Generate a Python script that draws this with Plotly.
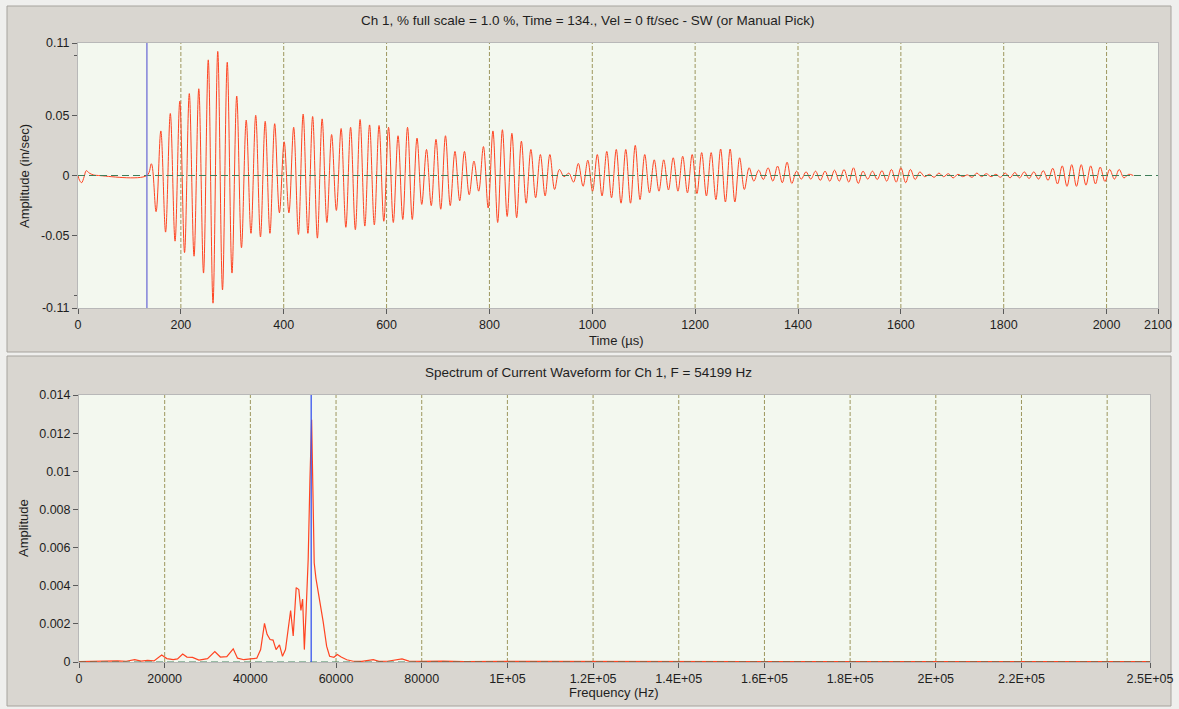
import plotly.graph_objects as go

W, H = 1179, 709

# ---------------- data ----------------
# waveform before the first arrival
PRE_T = [0, 3, 7, 12, 16, 22, 30, 40, 134]
PRE_A = [0, -0.004, -0.006, -0.001, 0.004, 0.002, 0.0005, 0, 0]

# successive extrema (peak, trough, ...) of the waveform after the pick
T_FIRST = 142.6      # time of first extremum (us)
HALF_STEP = 9.225    # spacing between successive extrema (us)
EXTREMA = [
    0.0097, -0.030, 0.037, -0.047, 0.0515, -0.0545, 0.0617, -0.064, 0.068, -0.067,
    0.072, -0.081, 0.096, -0.106, 0.103, -0.095, 0.094, -0.081, 0.066, -0.060,
    0.046, -0.048, 0.050, -0.051, 0.045, -0.048, 0.043, -0.031, 0.028, -0.031,
    0.040, -0.049, 0.051, -0.048, 0.049, -0.052, 0.047, -0.039, 0.034, -0.029,
    0.039, -0.043, 0.040, -0.045, 0.0465, -0.042, 0.042, -0.041, 0.0415, -0.038,
    0.040, -0.039, 0.033, -0.0365, 0.040, -0.0365, 0.031, -0.024, 0.0216, -0.025,
    0.030, -0.028, 0.033, -0.025, 0.020, -0.021, 0.020, -0.016, 0.012, -0.013,
    0.024, -0.027, 0.037, -0.039, 0.038, -0.034, 0.035, -0.035, 0.0285, -0.023,
    0.0216, -0.0185, 0.0174, -0.017, 0.0174, -0.0116, 0.005, -0.001, 0.002, -0.0055,
    0.010, -0.009, 0.0127, -0.013, 0.0174, -0.017, 0.020, -0.0185, 0.0216, -0.023,
    0.0216, -0.023, 0.025, -0.020, 0.0174, -0.0144, 0.013, -0.013, 0.013, -0.012,
    0.0147, -0.013, 0.016, -0.0144, 0.0174, -0.015, 0.019, -0.017, 0.019, -0.020,
    0.022, -0.022, 0.022, -0.022, 0.0147, -0.0116, 0.0064, -0.0047, 0.0044, -0.0033,
    0.0064, -0.0047, 0.0078, -0.006, 0.011, -0.0066, 0.0036, -0.003, 0.003, -0.003,
    0.0036, -0.004, 0.0036, -0.0047, 0.0044, -0.0047, 0.005, -0.0055, 0.0064, -0.0066,
    0.0036, -0.003, 0.0036, -0.0033, 0.004, -0.0047, 0.005, -0.0055, 0.0064, -0.006,
    0.005, -0.0033, 0.003, -0.001, 0.001, -0.0015, 0.002, -0.001, 0.0015, -0.002,
    0.001, -0.001, 0.0005, -0.0015, 0.002, -0.001, 0.0015, -0.001, 0.001, -0.0015,
    0.002, -0.002, 0.0025, -0.002, 0.003, -0.0025, 0.003, -0.003, 0.004, -0.004,
    0.006, -0.007, 0.008, -0.009, 0.009, -0.009, 0.009, -0.008, 0.008, -0.007,
    0.007, -0.005, 0.005, -0.003, 0.005, -0.002, 0.001,
]
END_T = [2052]
END_A = [0]

PICK_TIME = 134
PEAK_FREQ = 54199

# spectrum
SPEC_FREQ = [0, 2000, 5000, 7000, 9000, 11000, 13000, 14500, 16000, 17500,
             19300, 20500, 22000, 23000, 24200, 25200, 26500, 28000, 30000, 31700,
             33000, 34500, 36000, 37000, 38500, 40000, 41500, 42400, 43300, 43900,
             44600, 45300, 46000, 46800, 47500, 48200, 48800, 49400, 50000, 50700,
             51300, 51800, 52200, 52600, 53000, 53500, 53900, 54300, 54600, 54900,
             55300, 56000, 57000, 57800, 58500, 59500, 60300, 61200, 62500, 64000,
             66000, 68700, 70000, 72000, 75400, 77000, 80000, 85000, 90000, 100000,
             120000, 140000, 160000, 180000, 200000, 220000, 240000, 250000]
SPEC_AMP = [0.00002, 0.00003, 0.00005, 0.00003, 0.00006, 0.00004, 0.00012, 0.00005, 0.00008, 0.00006,
            0.00037, 0.00018, 0.00012, 0.00016, 0.00042, 0.00026, 0.00024, 0.00010, 0.00018, 0.00055,
            0.00026, 0.00028, 0.00069, 0.00020, 0.00012, 0.00016, 0.00020, 0.00065, 0.00203, 0.00145,
            0.00118, 0.00115, 0.00065, 0.00090, 0.00030, 0.00065, 0.00180, 0.00270, 0.00136, 0.00390,
            0.00380, 0.00270, 0.00330, 0.00065, 0.00260, 0.00540, 0.00950, 0.01270, 0.00900, 0.00520,
            0.00440, 0.00350, 0.00210, 0.00083, 0.00030, 0.00025, 0.00039, 0.00026, 0.00012, 0.00004,
            0.00003, 0.00012, 0.00003, 0.00004, 0.00016, 0.00005, 0.00003, 0.00005, 0.00002, 0.00003,
            0.00003, 0.00002, 0.00003, 0.00002, 0.00003, 0.00002, 0.00003, 0.00002]

# axes ticks
T_TICKS = [0, 200, 400, 600, 800, 1000, 1200, 1400, 1600, 1800, 2000, 2100]
T_GRID = [200, 400, 600, 800, 1000, 1200, 1400, 1600, 1800, 2000]
A_TICKS = [-0.11, -0.05, 0, 0.05, 0.11]
A_TICKTEXT = ["-0.11", "-0.05", "0", "0.05", "0.11"]
F_TICKS = [0, 20000, 40000, 60000, 80000, 100000, 120000, 140000, 160000,
           180000, 200000, 220000, 240000, 250000]
F_TICKTEXT = ["0", "20000", "40000", "60000", "80000", "1E+05", "1.2E+05", "1.4E+05",
              "1.6E+05", "1.8E+05", "2E+05", "2.2E+05", "", "2.5E+05"]
F_GRID = [20000, 40000, 60000, 80000, 100000, 120000, 140000, 160000, 180000,
          200000, 220000, 240000]
S_TICKS = [0, 0.002, 0.004, 0.006, 0.008, 0.01, 0.012, 0.014]
S_TICKTEXT = ["0", "0.002", "0.004", "0.006", "0.008", "0.01", "0.012", "0.014"]

# ---------------- styling ----------------
FONT = "Liberation Sans, Arial, sans-serif"
TXT = "#1e1e1e"
GRAY = "#d9d6d0"
OUTER = "#efefed"
PLOTBG = "#f3f8ef"
RED = "#ff4422"
GRIDC = "#9d975e"
ZEROC = "#3d7d58"
FRAME = "#a6a39d"

def px(x):
    return x / W

def py(y):
    return 1 - y / H

wave_t = PRE_T + [T_FIRST + i * HALF_STEP for i in range(len(EXTREMA))] + END_T
wave_a = PRE_A + EXTREMA + END_A

fig = go.Figure()
fig.add_trace(go.Scatter(x=wave_t, y=wave_a, mode="lines", xaxis="x", yaxis="y",
                         line=dict(color=RED, width=1.0, shape="spline", smoothing=1.0),
                         showlegend=False, hoverinfo="skip"))
fig.add_trace(go.Scatter(x=SPEC_FREQ, y=SPEC_AMP, mode="lines", xaxis="x2", yaxis="y2",
                         line=dict(color=RED, width=1.2),
                         showlegend=False, hoverinfo="skip"))

axis_common = dict(
    showgrid=False, zeroline=False, ticks="outside", ticklen=5, tickwidth=1,
    tickcolor="#5a5a5a", showline=True, linecolor="#b8b8b8", linewidth=1, mirror=True,
    tickfont=dict(family=FONT, size=12.5, color=TXT), fixedrange=True, automargin=False,
)

shapes = []
# light outer strips around the two panels (outside plot areas)
for (x0, y0, x1, y1) in [(0, 0, 1179, 6), (0, 0, 7, 709), (1171, 0, 1179, 709),
                         (0, 706, 1179, 709), (0, 352, 1179, 356)]:
    shapes.append(dict(type="rect", xref="paper", yref="paper", x0=px(x0), x1=px(x1),
                       y0=py(y1), y1=py(y0), fillcolor=OUTER, line=dict(width=0), layer="below"))
# panel frames
shapes.append(dict(type="rect", xref="paper", yref="paper", x0=px(7), x1=px(1171), y0=py(352), y1=py(6),
                   line=dict(color=FRAME, width=1), layer="below"))
shapes.append(dict(type="rect", xref="paper", yref="paper", x0=px(7), x1=px(1171), y0=py(706), y1=py(356),
                   line=dict(color=FRAME, width=1), layer="below"))
# grid lines
for g in T_GRID:
    shapes.append(dict(type="line", xref="x", yref="y domain", x0=g, x1=g, y0=0, y1=1,
                       line=dict(color=GRIDC, width=1, dash="4px,2px"), layer="below"))
for g in F_GRID:
    shapes.append(dict(type="line", xref="x2", yref="y2 domain", x0=g, x1=g, y0=0, y1=1,
                       line=dict(color=GRIDC, width=1, dash="4px,2px"), layer="below"))
# zero lines
shapes.append(dict(type="line", xref="x domain", yref="y", x0=0, x1=1, y0=0, y1=0,
                   line=dict(color=ZEROC, width=1, dash="7px,4px"), layer="above"))
shapes.append(dict(type="line", xref="x2 domain", yref="y2", x0=0, x1=1, y0=0, y1=0,
                   line=dict(color=ZEROC, width=1, dash="7px,4px"), layer="above"))
# pick / peak markers
shapes.append(dict(type="line", xref="x", yref="y domain", x0=PICK_TIME, x1=PICK_TIME, y0=0, y1=1,
                   line=dict(color="#6f6fd6", width=1.3), layer="above"))
shapes.append(dict(type="line", xref="x2", yref="y2 domain", x0=PEAK_FREQ, x1=PEAK_FREQ, y0=0, y1=1,
                   line=dict(color="#3a55ee", width=1.3), layer="above"))

def ann(text, x, y, size=12.5, angle=0):
    return dict(text=text, xref="paper", yref="paper", x=px(x), y=py(y), xanchor="center",
                yanchor="middle", showarrow=False, textangle=angle,
                font=dict(family=FONT, size=size, color=TXT))

annotations = [
    ann("Ch 1, % full scale = 1.0 %, Time = 134., Vel = 0 ft/sec - SW (or Manual Pick)", 588, 21, 13.5),
    ann("Time (µs)", 616, 341, 13),
    ann("Amplitude (in/sec)", 24, 176, 13, -90),
    ann("Spectrum of Current Waveform for Ch 1, F = 54199 Hz", 588, 373, 13.5),
    ann("Frequency (Hz)", 614, 692, 13),
    ann("Amplitude", 23, 528, 13, -90),
]

fig.update_layout(
    width=W, height=H, autosize=False,
    margin=dict(l=0, r=0, t=0, b=0, pad=0),
    paper_bgcolor=GRAY, plot_bgcolor=PLOTBG,
    showlegend=False,
    xaxis=dict(axis_common, domain=[px(78), px(1158)], range=[0, 2100],
               tickmode="array", tickvals=T_TICKS, anchor="y"),
    yaxis=dict(axis_common, domain=[py(308), py(43)], range=[-0.11, 0.11],
               tickmode="array", tickvals=A_TICKS, ticktext=A_TICKTEXT, anchor="x",
               minor=dict(tickvals=[-0.1, 0.1], ticks="outside", ticklen=3, tickcolor="#5a5a5a")),
    xaxis2=dict(axis_common, domain=[px(79), px(1150)], range=[0, 250000],
                tickmode="array", tickvals=F_TICKS, ticktext=F_TICKTEXT, anchor="y2"),
    yaxis2=dict(axis_common, domain=[py(662), py(395)], range=[0, 0.014],
                tickmode="array", tickvals=S_TICKS, ticktext=S_TICKTEXT, anchor="x2"),
    shapes=shapes,
    annotations=annotations,
)

fig.write_html("out.html")
